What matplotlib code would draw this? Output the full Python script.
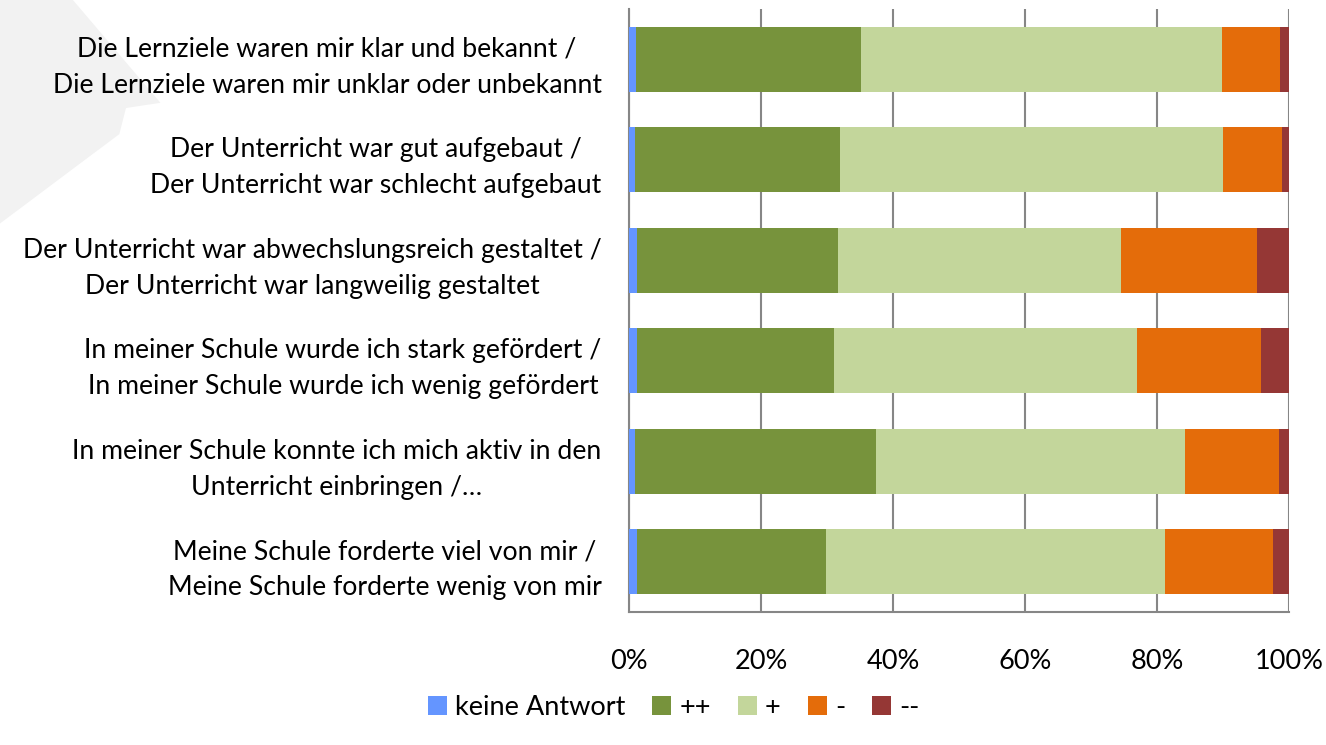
import numpy as np
import matplotlib.pyplot as plt
from matplotlib.patches import Polygon

# statements (top to bottom as shown)
labels = [
    "Die Lernziele waren mir klar und bekannt /\nDie Lernziele waren mir unklar oder unbekannt",
    "Der Unterricht war gut aufgebaut /\nDer Unterricht war schlecht aufgebaut",
    "Der Unterricht war abwechslungsreich gestaltet /\nDer Unterricht war langweilig gestaltet",
    "In meiner Schule wurde ich stark gefördert /\nIn meiner Schule wurde ich wenig gefördert",
    "In meiner Schule konnte ich mich aktiv in den\nUnterricht einbringen /…",
    "Meine Schule forderte viel von mir /\nMeine Schule forderte wenig von mir",
]

series = ["keine Antwort", "++", "+", "-", "--"]
keine = [1.0, 0.9, 1.1, 1.1, 0.9, 1.1]
pp = [34.1, 31.1, 30.5, 30.0, 36.5, 28.7]
p = [54.7, 58.0, 43.0, 45.9, 46.9, 51.4]
m = [8.9, 9.0, 20.6, 18.8, 14.2, 16.4]
mm = [1.3, 1.0, 4.8, 4.2, 1.5, 2.4]

colors = ["#6495FF", "#77933C", "#C3D69B", "#E46C0A", "#953735"]

plt.rcParams["font.family"] = ["Lato", "DejaVu Sans"]

fig = plt.figure(figsize=(13.26, 7.45), dpi=100)

# light grey background shape in the top-left corner
bg = Polygon([(0, 1), (0.055, 1), (0.121, 0.862), (0.095, 0.855),
              (0.09, 0.82), (0, 0.70)], closed=True,
             transform=fig.transFigure, facecolor="#f2f2f2", edgecolor="none",
             zorder=-1)
fig.patches.append(bg)

ax = fig.add_axes([0.4746, 0.1785, 0.4975, 0.8094])
ax.set_zorder(2)
ax.patch.set_alpha(0)

y = np.arange(len(labels))
data = [keine, pp, p, m, mm]
left = np.zeros(len(labels))
for vals, name, c in zip(data, series, colors):
    vals = np.array(vals)
    ax.barh(y, vals, left=left, height=0.645, color=c, label=name, zorder=3)
    left = left + vals

ax.set_xlim(0, 100)
ax.set_ylim(len(labels) - 0.5, -0.5)
ax.set_xticks(np.arange(0, 101, 20))
ax.set_xticklabels([f"{v}%" for v in range(0, 101, 20)])
ax.set_yticks(y)
ax.set_yticklabels(labels, multialignment="center", linespacing=1.55)
ax.tick_params(axis="both", length=0, colors="black")
ax.tick_params(axis="y", pad=20, labelsize=19.2)
ax.tick_params(axis="x", pad=26.5, labelsize=19.5)

ax.grid(axis="x", color="#868686", linewidth=1.5, zorder=1)
for s in ["top", "right"]:
    ax.spines[s].set_visible(False)
for s in ["left", "bottom"]:
    ax.spines[s].set_color("#868686")
    ax.spines[s].set_linewidth(1.5)

fig.legend(loc="center", bbox_to_anchor=(0.508, 0.051), ncol=5, frameon=False,
           fontsize=19.5, handlelength=0.7, handleheight=0.7, handletextpad=0.3,
           columnspacing=1.0)

fig.savefig("out.png", dpi=100)
